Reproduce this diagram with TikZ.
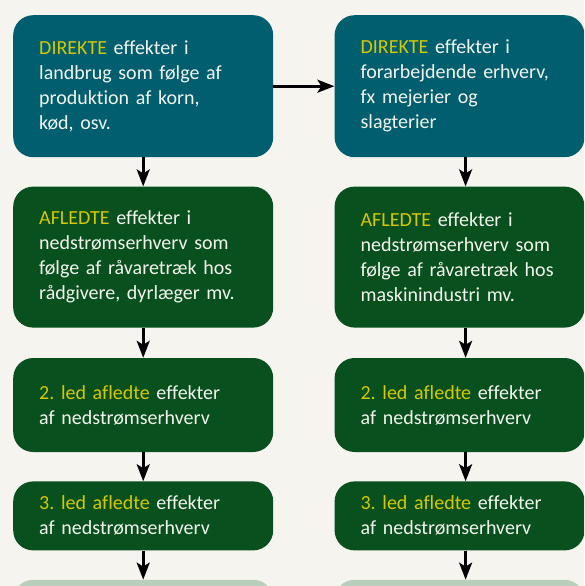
\documentclass[tikz,border=0pt]{standalone}
\usepackage{fontspec}
\setmainfont{Carlito}[Ligatures=NoCommon]
\frenchspacing
\usetikzlibrary{positioning,arrows.meta}
\definecolor{bgcream}{HTML}{F6F4EF}
\definecolor{tealbox}{HTML}{005E6E}
\definecolor{greenbox}{HTML}{08501E}
\definecolor{palegreen}{HTML}{B9CEBB}
\definecolor{hlyellow}{HTML}{D6C800}
\definecolor{boxtext}{HTML}{F4F4EE}
\newcommand{\fremhaev}[1]{\textcolor{hlyellow}{#1}}

\begin{document}
\begin{tikzpicture}[node distance=29pt,
    box/.style={rounded corners=20pt, text=boxtext, align=left, inner xsep=26pt, inner ysep=0pt,
                font=\fontsize{20}{25}\selectfont},
    wide/.style={box, text width=208pt},
    narrow/.style={box, text width=198pt},
    direkte/.style={fill=tealbox, minimum height=142pt},
    afledt/.style={fill=greenbox},
    pil/.style={line width=2.6pt, -{Stealth[length=17pt,width=13pt,inset=4pt]}}]
  \clip (0,0) rectangle (584pt,-586pt);
  \fill[bgcream] (0,0) rectangle (584pt,-586pt);
  % venstre kolonne
  \node[wide,direkte,anchor=north west] (l1) at (13pt,-15pt)
    {\fremhaev{DIREKTE} effekter i\\landbrug som følge af\\produktion af korn,\\kød, osv.};
  \node[wide,afledt,minimum height=141pt] (l2) [below=of l1]
    {\fremhaev{AFLEDTE} effekter i\\nedstrømserhverv som\\følge af råvaretræk hos\\rådgivere, dyrlæger mv.};
  \node[wide,afledt,minimum height=94pt] (l3) [below=30pt of l2]
    {\fremhaev{2. led afledte} effekter\\af nedstrømserhverv};
  \node[wide,afledt,minimum height=69pt] (l4) [below=of l3]
    {\fremhaev{3. led afledte} effekter\\af nedstrømserhverv};
  \node[wide,fill=palegreen,minimum height=40pt] (l5) [below=of l4] {};
  % hoejre kolonne
  \node[narrow,direkte] (r1) [right=61pt of l1]
    {\fremhaev{DIREKTE} effekter i\\forarbejdende erhverv,\\fx mejerier og\\slagterier};
  \node[narrow,afledt,minimum height=141pt] (r2) [below=of r1]
    {\fremhaev{AFLEDTE} effekter i\\nedstrømserhverv som\\følge af råvaretræk hos\\maskinindustri mv.};
  \node[narrow,afledt,minimum height=94pt] (r3) [below=30pt of r2]
    {\fremhaev{2. led afledte} effekter\\af nedstrømserhverv};
  \node[narrow,afledt,minimum height=69pt] (r4) [below=of r3]
    {\fremhaev{3. led afledte} effekter\\af nedstrømserhverv};
  \node[narrow,fill=palegreen,minimum height=40pt] (r5) [below=of r4] {};
  \path[pil]
    (l1) edge (r1)
    (l1) edge (l2)
    (l2) edge (l3)
    (l3) edge (l4)
    (l4) edge (l5)
    ([xshift=6pt]r1.south) edge ([xshift=6pt]r2.north)
    ([xshift=6pt]r2.south) edge ([xshift=6pt]r3.north)
    ([xshift=6pt]r3.south) edge ([xshift=6pt]r4.north)
    ([xshift=6pt]r4.south) edge ([xshift=6pt]r5.north)
    ; %end path
\end{tikzpicture}
\end{document}
